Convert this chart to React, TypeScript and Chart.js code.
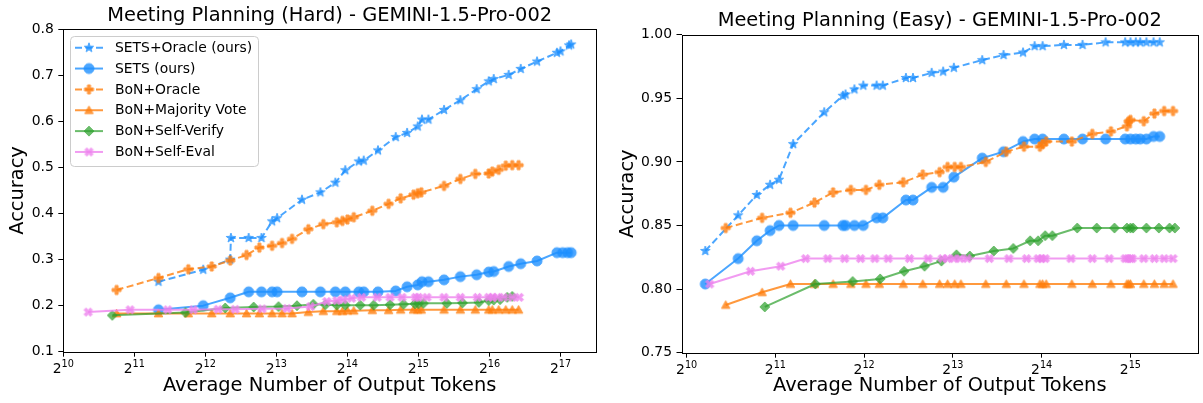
import React, { useEffect, useRef } from "react";
import { Chart, registerables } from "chart.js";

Chart.register(...registerables);

const FONT = '"DejaVu Sans", "Liberation Sans", sans-serif';

// ---------- Meeting Planning (Hard): x = log2(average output tokens), y = accuracy
const hardSetsOracleX = [11.34, 11.97, 12.35, 12.36, 12.61, 12.79, 12.94, 13.01, 13.36, 13.62, 13.83, 13.97, 14.16, 14.23, 14.43, 14.68, 14.84, 14.99, 15.05, 15.14, 15.36, 15.59, 15.82, 15.99, 16.06, 16.27, 16.44, 16.67, 16.95, 17.0, 17.12, 17.15];
const hardSetsOracleY = [0.252, 0.278, 0.300, 0.347, 0.347, 0.347, 0.383, 0.390, 0.430, 0.446, 0.467, 0.494, 0.513, 0.515, 0.537, 0.566, 0.575, 0.589, 0.604, 0.604, 0.625, 0.646, 0.670, 0.687, 0.692, 0.701, 0.714, 0.730, 0.749, 0.752, 0.765, 0.767];

const hardSetsX = [11.34, 11.97, 12.35, 12.61, 12.79, 12.94, 13.01, 13.36, 13.62, 13.83, 13.97, 14.16, 14.23, 14.43, 14.68, 14.84, 14.99, 15.05, 15.14, 15.36, 15.59, 15.82, 15.99, 16.06, 16.27, 16.44, 16.67, 16.95, 17.03, 17.1, 17.15];
const hardSetsY = [0.191, 0.200, 0.217, 0.230, 0.230, 0.230, 0.230, 0.230, 0.230, 0.230, 0.230, 0.230, 0.230, 0.230, 0.232, 0.241, 0.245, 0.252, 0.252, 0.256, 0.263, 0.267, 0.273, 0.274, 0.285, 0.291, 0.297, 0.315, 0.315, 0.315, 0.315];

const hardBonX = [10.75, 11.34, 11.76, 12.09, 12.35, 12.58, 12.76, 12.94, 13.08, 13.22, 13.45, 13.66, 13.85, 13.93, 14.0, 14.09, 14.35, 14.58, 14.75, 14.93, 14.99, 15.04, 15.36, 15.59, 15.8, 15.99, 16.04, 16.13, 16.23, 16.32, 16.41];
const hardBonOracleY = [0.234, 0.260, 0.279, 0.285, 0.298, 0.310, 0.326, 0.330, 0.336, 0.345, 0.366, 0.377, 0.381, 0.384, 0.387, 0.392, 0.406, 0.421, 0.433, 0.441, 0.444, 0.446, 0.460, 0.475, 0.486, 0.487, 0.491, 0.495, 0.504, 0.505, 0.505];
const hardMajorityY = [0.183, 0.183, 0.183, 0.183, 0.183, 0.183, 0.183, 0.183, 0.183, 0.183, 0.186, 0.188, 0.188, 0.188, 0.189, 0.189, 0.190, 0.190, 0.191, 0.191, 0.191, 0.191, 0.191, 0.191, 0.191, 0.191, 0.191, 0.191, 0.191, 0.191, 0.191];

const hardVerifyX = [10.69, 11.72, 12.28, 12.68, 13.03, 13.29, 13.52, 13.69, 13.85, 13.97, 14.18, 14.37, 14.6, 14.79, 14.95, 15.0, 15.07, 15.4, 15.62, 15.85, 15.99, 16.06, 16.15, 16.25, 16.32];
const hardVerifyY = [0.179, 0.185, 0.195, 0.197, 0.198, 0.200, 0.203, 0.202, 0.201, 0.201, 0.201, 0.201, 0.202, 0.203, 0.204, 0.204, 0.205, 0.205, 0.206, 0.207, 0.211, 0.212, 0.213, 0.218, 0.220];

const hardEvalX = [10.35, 10.94, 11.47, 11.83, 12.18, 12.42, 12.8, 13.15, 13.48, 13.71, 13.85, 13.94, 14.06, 14.2, 14.42, 14.6, 14.77, 14.96, 15.0, 15.12, 15.36, 15.59, 15.83, 15.99, 16.04, 16.11, 16.2, 16.32, 16.42];
const hardEvalY = [0.186, 0.191, 0.191, 0.191, 0.192, 0.192, 0.193, 0.194, 0.198, 0.209, 0.211, 0.213, 0.216, 0.218, 0.218, 0.218, 0.218, 0.218, 0.218, 0.218, 0.218, 0.218, 0.218, 0.218, 0.218, 0.218, 0.218, 0.218, 0.218];

// ---------- Meeting Planning (Easy)
const easySetsX = [10.21, 10.58, 10.79, 10.94, 11.04, 11.2, 11.55, 11.76, 11.79, 11.89, 11.99, 12.14, 12.21, 12.47, 12.55, 12.76, 12.89, 13.01, 13.33, 13.57, 13.79, 13.92, 14.01, 14.25, 14.46, 14.72, 14.94, 15.0, 15.06, 15.11, 15.18, 15.26, 15.33];
const easySetsOracleY = [0.830, 0.858, 0.874, 0.882, 0.886, 0.914, 0.939, 0.952, 0.953, 0.957, 0.960, 0.960, 0.960, 0.966, 0.966, 0.970, 0.971, 0.974, 0.980, 0.984, 0.986, 0.991, 0.991, 0.992, 0.992, 0.994, 0.994, 0.994, 0.994, 0.994, 0.994, 0.994, 0.994];
const easySetsY = [0.804, 0.824, 0.838, 0.846, 0.850, 0.850, 0.850, 0.850, 0.850, 0.850, 0.850, 0.856, 0.856, 0.870, 0.870, 0.880, 0.880, 0.888, 0.903, 0.908, 0.916, 0.918, 0.918, 0.918, 0.918, 0.918, 0.918, 0.918, 0.918, 0.918, 0.918, 0.920, 0.920];

const easyBonX = [10.44, 10.85, 11.17, 11.44, 11.65, 11.85, 12.02, 12.17, 12.44, 12.66, 12.85, 12.94, 13.02, 13.09, 13.37, 13.6, 13.8, 13.98, 14.01, 14.05, 14.34, 14.57, 14.78, 14.96, 14.98, 15.0, 15.15, 15.27, 15.38, 15.48];
const easyBonOracleY = [0.848, 0.856, 0.860, 0.868, 0.876, 0.878, 0.878, 0.882, 0.884, 0.890, 0.892, 0.896, 0.896, 0.896, 0.900, 0.908, 0.912, 0.912, 0.914, 0.916, 0.916, 0.922, 0.924, 0.928, 0.932, 0.933, 0.932, 0.938, 0.940, 0.940];
const easyMajorityY = [0.7875, 0.7975, 0.804, 0.804, 0.804, 0.804, 0.804, 0.804, 0.804, 0.804, 0.804, 0.804, 0.804, 0.804, 0.804, 0.804, 0.804, 0.804, 0.804, 0.804, 0.804, 0.804, 0.804, 0.804, 0.804, 0.804, 0.804, 0.804, 0.804, 0.804];

const easyVerifyX = [10.88, 11.45, 11.87, 12.18, 12.45, 12.68, 12.87, 13.04, 13.19, 13.46, 13.68, 13.87, 13.96, 14.04, 14.12, 14.4, 14.62, 14.82, 14.96, 15.0, 15.03, 15.18, 15.32, 15.44, 15.5];
const easyVerifyY = [0.786, 0.804, 0.806, 0.808, 0.814, 0.818, 0.822, 0.827, 0.826, 0.830, 0.832, 0.838, 0.838, 0.842, 0.842, 0.848, 0.848, 0.848, 0.848, 0.848, 0.848, 0.848, 0.848, 0.848, 0.848];

const easyEvalX = [10.26, 10.72, 11.06, 11.34, 11.59, 11.78, 11.96, 12.12, 12.27, 12.51, 12.72, 12.88, 12.94, 13.01, 13.08, 13.16, 13.41, 13.63, 13.83, 13.96, 14.0, 14.04, 14.33, 14.57, 14.76, 14.94, 14.97, 15.0, 15.02, 15.15, 15.27, 15.38, 15.48];
const easyEvalY = [0.804, 0.814, 0.818, 0.824, 0.824, 0.824, 0.824, 0.824, 0.824, 0.824, 0.824, 0.824, 0.824, 0.824, 0.824, 0.824, 0.824, 0.824, 0.824, 0.824, 0.824, 0.824, 0.824, 0.824, 0.824, 0.824, 0.824, 0.824, 0.824, 0.824, 0.824, 0.824, 0.824];

// ---------- labels / ticks
const seriesLabels = ["SETS+Oracle (ours)", "SETS (ours)", "BoN+Oracle", "BoN+Majority Vote", "BoN+Self-Verify", "BoN+Self-Eval"];
const hardXTicks = [10, 11, 12, 13, 14, 15, 16, 17];
const easyXTicks = [10, 11, 12, 13, 14, 15];
const hardYTicks = [0.1, 0.2, 0.3, 0.4, 0.5, 0.6, 0.7, 0.8];
const easyYTicks = [0.75, 0.8, 0.85, 0.9, 0.95, 1.0];

type Shape = "star" | "circle" | "plus" | "triangle" | "diamond" | "x";

function shapePath(ctx: CanvasRenderingContext2D, shape: Shape, r: number) {
  ctx.beginPath();
  if (shape === "circle") {
    ctx.arc(0, 0, r, 0, Math.PI * 2);
  } else if (shape === "star") {
    for (let i = 0; i < 10; i++) {
      const a = -Math.PI / 2 + (i * Math.PI) / 5;
      const rr = i % 2 === 0 ? r : r * 0.4;
      const px = Math.cos(a) * rr, py = Math.sin(a) * rr;
      if (i === 0) ctx.moveTo(px, py); else ctx.lineTo(px, py);
    }
    ctx.closePath();
  } else if (shape === "triangle") {
    ctx.moveTo(0, -r);
    ctx.lineTo(r, r * 0.8);
    ctx.lineTo(-r, r * 0.8);
    ctx.closePath();
  } else if (shape === "diamond") {
    ctx.moveTo(0, -r);
    ctx.lineTo(r, 0);
    ctx.lineTo(0, r);
    ctx.lineTo(-r, 0);
    ctx.closePath();
  } else {
    const a = r / 3;
    const pts = [[-a, -r], [a, -r], [a, -a], [r, -a], [r, a], [a, a], [a, r], [-a, r], [-a, a], [-r, a], [-r, -a], [-a, -a]];
    const rot = shape === "x" ? Math.PI / 4 : 0;
    pts.forEach(([px, py], i) => {
      const qx = px * Math.cos(rot) - py * Math.sin(rot);
      const qy = px * Math.sin(rot) + py * Math.cos(rot);
      if (i === 0) ctx.moveTo(qx, qy); else ctx.lineTo(qx, qy);
    });
    ctx.closePath();
  }
}

function makeMarker(shape: Shape, rgb: string, alpha: number, size: number): HTMLCanvasElement {
  const d = Math.ceil(size + 4);
  const a = document.createElement("canvas");
  a.width = d; a.height = d;
  const actx = a.getContext("2d")!;
  actx.translate(d / 2, d / 2);
  actx.fillStyle = `rgb(${rgb})`;
  actx.strokeStyle = `rgb(${rgb})`;
  actx.lineWidth = 1;
  actx.lineJoin = "miter";
  shapePath(actx, shape, size / 2);
  actx.fill();
  actx.stroke();
  const b = document.createElement("canvas");
  b.width = d; b.height = d;
  const bctx = b.getContext("2d")!;
  bctx.globalAlpha = alpha;
  bctx.drawImage(a, 0, 0);
  return b;
}

interface Series {
  label: string;
  xs: number[];
  ys: number[];
  rgb: string;
  alpha: number;
  dashed: boolean;
  shape: Shape;
  size: number;
}

const BLUE = "30,144,255";
const ORANGE = "255,127,14";
const GREEN = "44,160,44";
const VIOLET = "238,130,238";

function makeSeries(data: [number[], number[]][]): Series[] {
  const styles: [string, number, boolean, Shape, number][] = [
    [BLUE, 0.8, true, "star", 10],
    [BLUE, 0.8, false, "circle", 10],
    [ORANGE, 0.8, true, "plus", 9],
    [ORANGE, 0.8, false, "triangle", 8.5],
    [GREEN, 0.7, false, "diamond", 10],
    [VIOLET, 0.8, false, "x", 9],
  ];
  return data.map(([xs, ys], i) => ({
    label: seriesLabels[i], xs, ys,
    rgb: styles[i][0], alpha: styles[i][1], dashed: styles[i][2], shape: styles[i][3], size: styles[i][4],
  }));
}

interface PanelDef {
  title: string;
  left: number;
  width: number;
  padTop: number;
  padRight: number;
  yWidth: number;
  xHeight: number;
  xMin: number; xMax: number; xTicks: number[];
  yMin: number; yMax: number; yTicks: number[]; yDigits: number;
  yTitlePad: number;
  legend: boolean;
  series: Series[];
}

const framePlugin = {
  id: "frame",
  afterDatasetsDraw(chart: any) {
    const { ctx, chartArea: ca } = chart;
    const l = Math.round(ca.left) + 0.5, t = Math.round(ca.top) + 0.5;
    const r = Math.round(ca.right) + 0.5, b = Math.round(ca.bottom) + 0.5;
    ctx.save();
    ctx.strokeStyle = "#000";
    ctx.lineWidth = 1;
    ctx.strokeRect(l, t, r - l, b - t);
    ctx.restore();
  },
};

function titlePlugin(text: string) {
  return {
    id: "axTitle",
    afterDraw(chart: any) {
      const { ctx, chartArea: ca } = chart;
      ctx.save();
      ctx.font = `19.4px ${FONT}`;
      ctx.fillStyle = "#000";
      ctx.textAlign = "center";
      ctx.textBaseline = "alphabetic";
      ctx.fillText(text, (ca.left + ca.right) / 2, ca.top - 8.3);
      ctx.restore();
    },
  };
}

// x tick labels drawn as "2" with a raised exponent, like the mathtext labels
function powerTickPlugin(ticks: number[]) {
  return {
    id: "pow2Ticks",
    afterDraw(chart: any) {
      const { ctx, chartArea: ca } = chart;
      const sx = chart.scales.x;
      const base = ca.bottom + 21;
      ctx.save();
      ctx.fillStyle = "#000";
      ctx.textAlign = "left";
      ctx.textBaseline = "alphabetic";
      ticks.forEach((v) => {
        const x = sx.getPixelForValue(v);
        const e = String(v);
        ctx.font = `13.9px ${FONT}`;
        const w1 = ctx.measureText("2").width;
        ctx.font = `9.7px ${FONT}`;
        const w2 = ctx.measureText(e).width;
        const x0 = x - (w1 + w2) / 2;
        ctx.font = `13.9px ${FONT}`;
        ctx.fillText("2", x0, base);
        ctx.font = `9.7px ${FONT}`;
        ctx.fillText(e, x0 + w1, base - 5.6);
      });
      ctx.restore();
    },
  };
}

function legendPlugin(series: Series[], markers: HTMLCanvasElement[]) {
  return {
    id: "boxLegend",
    afterDraw(chart: any) {
      const { ctx } = chart;
      const bx = 70.5, by = 36.5, bw = 188, bh = 130, rad = 4;
      ctx.save();
      ctx.beginPath();
      ctx.moveTo(bx + rad, by);
      ctx.arcTo(bx + bw, by, bx + bw, by + bh, rad);
      ctx.arcTo(bx + bw, by + bh, bx, by + bh, rad);
      ctx.arcTo(bx, by + bh, bx, by, rad);
      ctx.arcTo(bx, by, bx + bw, by, rad);
      ctx.closePath();
      ctx.fillStyle = "rgba(255,255,255,0.8)";
      ctx.fill();
      ctx.strokeStyle = "rgba(204,204,204,1)";
      ctx.lineWidth = 1;
      ctx.stroke();
      series.forEach((s, i) => {
        const y = 47.7 + i * 20.85;
        ctx.beginPath();
        ctx.setLineDash(s.dashed ? [7, 3.5] : []);
        ctx.strokeStyle = `rgba(${s.rgb},${s.alpha})`;
        ctx.lineWidth = 2;
        ctx.moveTo(75, y);
        ctx.lineTo(103, y);
        ctx.stroke();
        ctx.setLineDash([]);
        const m = markers[i];
        ctx.drawImage(m, 89 - m.width / 2, y - m.height / 2);
        ctx.font = `13.9px ${FONT}`;
        ctx.fillStyle = "#000";
        ctx.textAlign = "left";
        ctx.textBaseline = "middle";
        ctx.fillText(s.label, 115, y + 0.5);
      });
      ctx.restore();
    },
  };
}

function buildConfig(p: PanelDef): any {
  const markers = p.series.map((s) => makeMarker(s.shape, s.rgb, s.alpha, s.size));
  const n = p.series.length;
  const datasets = p.series.map((s, i) => ({
    label: s.label,
    data: s.xs.map((x, j) => ({ x, y: s.ys[j] })),
    borderColor: `rgba(${s.rgb},${s.alpha})`,
    backgroundColor: `rgba(${s.rgb},${s.alpha})`,
    borderWidth: 2,
    borderDash: s.dashed ? [7, 3.5] : [],
    borderJoinStyle: "round",
    pointStyle: markers[i],
    pointRadius: 5,
    pointHoverRadius: 5,
    tension: 0,
    fill: false,
    order: n - i,
  }));
  const tickFont = { family: FONT, size: 13.9 };
  const titleFont = { family: FONT, size: 19.4 };
  const grid = { display: true, drawOnChartArea: false, drawTicks: true, tickLength: 5, color: "#000", lineWidth: 1 };
  const plugins: any[] = [framePlugin, titlePlugin(p.title), powerTickPlugin(p.xTicks)];
  if (p.legend) plugins.push(legendPlugin(p.series, markers));
  return {
    type: "line",
    data: { datasets },
    options: {
      responsive: false,
      animation: false,
      devicePixelRatio: 1,
      events: [],
      layout: { padding: { top: p.padTop, right: p.padRight, left: 0, bottom: 0 } },
      plugins: { legend: { display: false }, tooltip: { enabled: false }, title: { display: false } },
      scales: {
        x: {
          type: "linear",
          min: p.xMin,
          max: p.xMax,
          afterBuildTicks: (s: any) => { s.ticks = p.xTicks.map((v) => ({ value: v })); },
          afterFit: (s: any) => { s.height = p.xHeight; },
          ticks: { display: false, autoSkip: false, maxRotation: 0 },
          grid,
          border: { display: false },
          title: { display: true, text: "Average Number of Output Tokens", font: titleFont, color: "#000", padding: { top: 0, bottom: 5 } },
        },
        y: {
          type: "linear",
          min: p.yMin,
          max: p.yMax,
          afterBuildTicks: (s: any) => { s.ticks = p.yTicks.map((v) => ({ value: v })); },
          afterFit: (s: any) => { s.width = p.yWidth; },
          ticks: { callback: (v: any) => Number(v).toFixed(p.yDigits), font: tickFont, color: "#000", padding: 4.5, autoSkip: false },
          grid,
          border: { display: false },
          title: { display: true, text: "Accuracy", font: titleFont, color: "#000", padding: { top: p.yTitlePad, bottom: 0 } },
        },
      },
    },
    plugins,
  };
}

const hardPanel: PanelDef = {
  title: "Meeting Planning (Hard) - GEMINI-1.5-Pro-002",
  left: 0, width: 605, padTop: 29.3, padRight: 9, yWidth: 63.3, xHeight: 51.3,
  xMin: 10, xMax: 17.5, xTicks: hardXTicks,
  yMin: 0.1, yMax: 0.8, yTicks: hardYTicks, yDigits: 1, yTitlePad: 6.5,
  legend: true,
  series: makeSeries([
    [hardSetsOracleX, hardSetsOracleY],
    [hardSetsX, hardSetsY],
    [hardBonX, hardBonOracleY],
    [hardBonX, hardMajorityY],
    [hardVerifyX, hardVerifyY],
    [hardEvalX, hardEvalY],
  ]),
};

const easyPanel: PanelDef = {
  title: "Meeting Planning (Easy) - GEMINI-1.5-Pro-002",
  left: 605, width: 600, padTop: 34.7, padRight: 1.5, yWidth: 76.5, xHeight: 50.3,
  xMin: 9.942, xMax: 15.761, xTicks: easyXTicks,
  yMin: 0.75, yMax: 1.0, yTicks: easyYTicks, yDigits: 2, yTitlePad: 11.5,
  legend: false,
  series: makeSeries([
    [easySetsX, easySetsOracleY],
    [easySetsX, easySetsY],
    [easyBonX, easyBonOracleY],
    [easyBonX, easyMajorityY],
    [easyVerifyX, easyVerifyY],
    [easyEvalX, easyEvalY],
  ]),
};

function Panel({ def }: { def: PanelDef }) {
  const ref = useRef<HTMLCanvasElement>(null);
  useEffect(() => {
    const chart = new Chart(ref.current!, buildConfig(def));
    return () => chart.destroy();
  }, [def]);
  return (
    <canvas
      ref={ref}
      width={def.width}
      height={403}
      style={{ position: "absolute", left: def.left, top: 0, width: def.width, height: 403 }}
    />
  );
}

export default function App() {
  return (
    <div style={{ position: "absolute", left: 0, top: 0, width: 1203, height: 403, overflow: "hidden", background: "#fff" }}>
      <Panel def={hardPanel} />
      <Panel def={easyPanel} />
    </div>
  );
}
